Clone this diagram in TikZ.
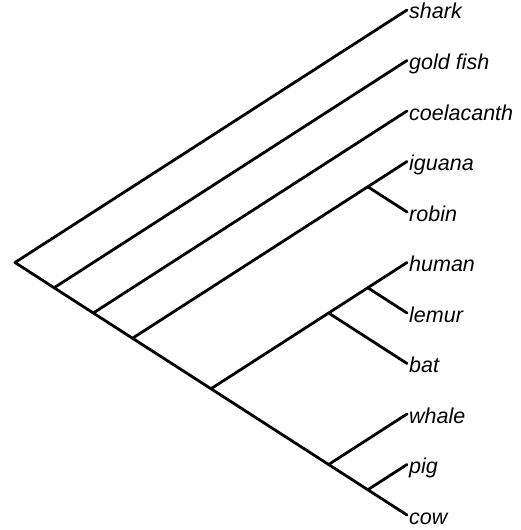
\documentclass[tikz,border=0pt]{standalone}
\usepackage{fontspec}
\setmainfont{Liberation Sans}
\usepackage{tikz}
\usetikzlibrary{positioning}

\begin{document}
\begin{tikzpicture}[
  x=1pt, y=-1pt,
  font=\fontsize{21.5}{26}\selectfont\itshape,
  branch/.style={line width=2.8pt, line cap=round, line join=round},
  taxon/.style={anchor=base west, inner sep=0pt, xshift=2pt, yshift=-9pt}]
  \useasboundingbox (0,0) rectangle (521,530);
  % tips and taxon names
  \foreach \name [count=\i from 0] in {shark,gold fish,coelacanth,iguana,robin,human,lemur,bat,whale,pig,cow} {
    \coordinate (t\i) at (407, 10+50.5*\i);
    \node[taxon] (lab\i) at (t\i) {\name};
  }
  % internal nodes
  \coordinate (root) at (15,262.5);
  \coordinate (n1) at (54.1,287.75);
  \coordinate (n2) at (93.3,313);
  \coordinate (n3) at (132.5,338.25);
  \coordinate (n34) at (367.8,186.75);
  \coordinate (n5) at (211,388.75);
  \coordinate (n57) at (328.6,313);
  \coordinate (n56) at (367.8,287.75);
  \coordinate (n8) at (328.6,464.5);
  \coordinate (n9) at (367.8,489.75);
  % branches
  \draw[branch] (t0) -- (root) -- (n1) -- (n2) -- (n3) -- (n5) -- (n8) -- (n9) -- (t10);
  \draw[branch] (n1) -- (t1);
  \draw[branch] (n2) -- (t2);
  \draw[branch] (n3) -- (n34) -- (t3); \draw[branch] (n34) -- (t4);
  \draw[branch] (n5) -- (n57) -- (n56) -- (t5); \draw[branch] (n56) -- (t6); \draw[branch] (n57) -- (t7);
  \draw[branch] (n8) -- (t8);
  \draw[branch] (n9) -- (t9);
\end{tikzpicture}
\end{document}
